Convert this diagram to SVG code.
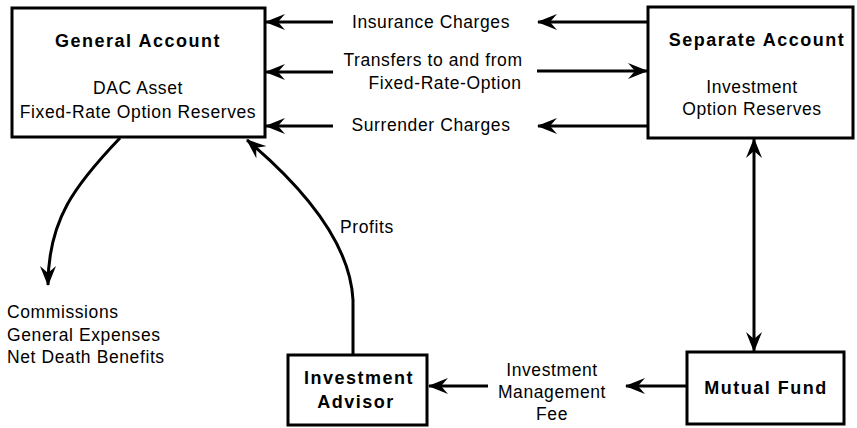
<svg xmlns="http://www.w3.org/2000/svg" width="857" height="428" viewBox="0 0 857 428">
<style>
.box{fill:#fff;stroke:#000;stroke-width:3}
.t{font-family:"Liberation Sans",Arial,sans-serif;font-size:18px;font-weight:bold;letter-spacing:1.5px;text-anchor:middle;fill:#000}
.l{font-family:"Liberation Sans",Arial,sans-serif;font-size:17.5px;letter-spacing:0.6px;fill:#000}
.c{text-anchor:middle}
.e{fill:none;stroke:#000;stroke-width:3;marker-end:url(#ah)}
.d{marker-start:url(#ah)}
</style>
<defs>
<marker id="ah" viewBox="0 0 20 16" refX="19" refY="8" markerWidth="20" markerHeight="16" markerUnits="userSpaceOnUse" orient="auto-start-reverse"><path d="M0,0 L20,8 L0,16 L7,8 Z" fill="#000"/></marker>
</defs>
<rect width="857" height="428" fill="#fff"/>
<g id="connectors">
<path class="e" d="M333,22 H266"/>
<path class="e" d="M648,22 H538"/>
<path class="e" d="M333,72 H266"/>
<path class="e" d="M537,71 H647"/>
<path class="e" d="M333,126 H266"/>
<path class="e" d="M648,126 H538"/>
<path class="e d" d="M754,139 V351"/>
<path class="e" d="M687,386 H626"/>
<path class="e" d="M488,386 H429"/>
<path class="e" d="M353,355 L353,300 C350,240 298,183 247,140"/>
<path class="e" d="M120,138 C75,185 48,220 48,285"/>
</g>
<g id="general-account">
<rect class="box" x="12" y="8" width="253" height="129"/>
<text class="t" x="138" y="47">General Account</text>
<text class="l c" x="138" y="94">DAC Asset</text>
<text class="l c" x="138" y="118">Fixed-Rate Option Reserves</text>
</g>
<g id="separate-account">
<rect class="box" x="648" y="7" width="205" height="131"/>
<text class="t" x="757" y="46">Separate Account</text>
<text class="l c" x="752" y="93">Investment</text>
<text class="l c" x="752" y="115">Option Reserves</text>
</g>
<g id="investment-advisor">
<rect class="box" x="288" y="355" width="139" height="70"/>
<text class="t" x="359" y="384">Investment</text>
<text class="t" x="356" y="408">Advisor</text>
</g>
<g id="mutual-fund">
<rect class="box" x="687" y="352" width="157" height="72"/>
<text class="t" x="766" y="394">Mutual Fund</text>
</g>
<g id="labels">
<text class="l c" x="431" y="28">Insurance Charges</text>
<text class="l c" x="433" y="66">Transfers to and from</text>
<text class="l c" x="445" y="89">Fixed-Rate-Option</text>
<text class="l c" x="431" y="131">Surrender Charges</text>
<text class="l" x="340" y="233">Profits</text>
<text class="l" x="7" y="318">Commissions</text>
<text class="l" x="7" y="341">General Expenses</text>
<text class="l" x="7" y="363">Net Death Benefits</text>
<text class="l c" x="552" y="376">Investment</text>
<text class="l c" x="552" y="398">Management</text>
<text class="l c" x="552" y="420">Fee</text>
</g>
</svg>
